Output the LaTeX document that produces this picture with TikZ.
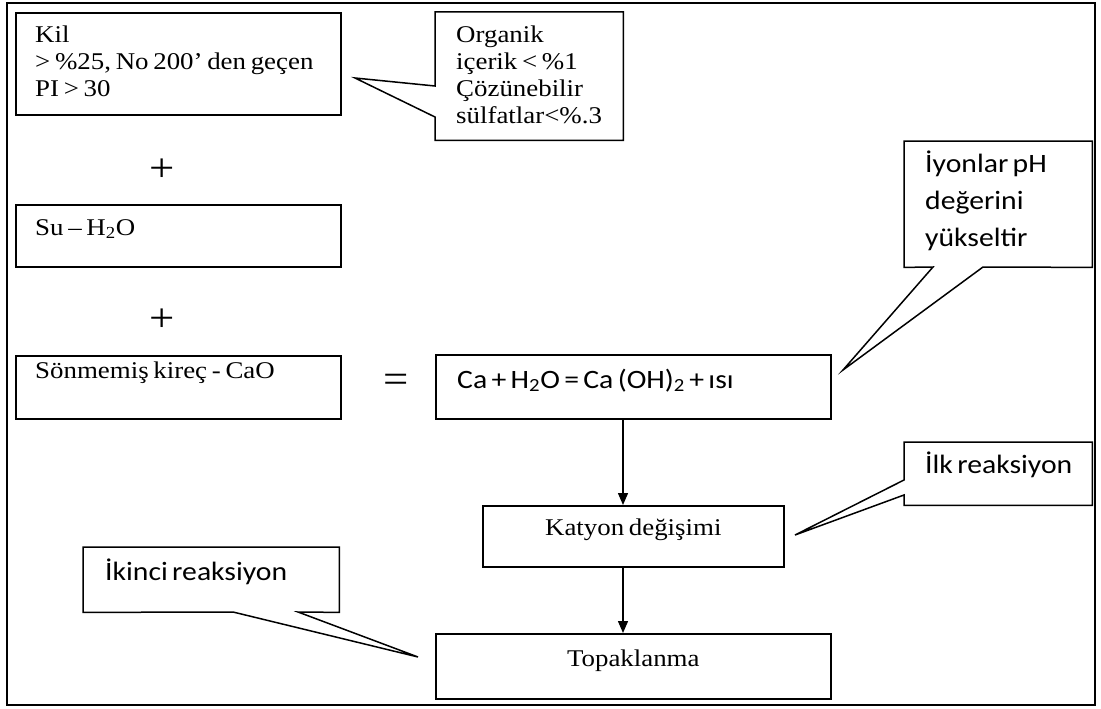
\documentclass[tikz,border=0pt]{standalone}
\usepackage{fontspec}
\usetikzlibrary{arrows.meta,calc}
\newfontfamily\tnr{Liberation Serif}[FakeStretch=1.12,WordSpace=0.7]
\newfontfamily\cbr{Carlito}[FakeStretch=1.12,WordSpace=0.65]
\tikzset{
  box/.style={draw, line width=1.6pt, anchor=north west, inner sep=0pt},
  bubble/.style={draw, line width=1.5pt, line join=miter},
  ttext/.style={font=\tnr\fontsize{24}{26.7}\selectfont, inner sep=0pt},
  ctext/.style={font=\cbr\fontsize{26.5}{37}\selectfont, inner sep=0pt},
  flow/.style={line width=1.4pt, -{Triangle[length=12pt,width=10pt]}},
  sign/.style={font=\tnr\fontsize{40}{40}\selectfont, inner sep=0pt}
}
\begin{document}
\begin{tikzpicture}[x=1pt,y=-1pt]
\useasboundingbox (0,0) rectangle (1101,709);
\fill[white] (0,0) rectangle (1101,709);
\draw[line width=2.4pt] (7,3) rectangle (1095,705);

% left column boxes
\node[box, minimum width=325pt, minimum height=102pt] (kil) at (15,12) {};
\node[ttext, anchor=base west] (kilt) at (35,43)
  {\vtop{\hbox{Kil}\hbox{> \%25, No 200’ den geçen}\hbox{PI > 30}}};
\node[sign] (plus1) at (162,170) {+};
\node[box, minimum width=325pt, minimum height=62pt] (su) at (15,204) {};
\node[ttext, anchor=base west] (sut) at (35,235) {Su – H\textsubscript{2}O};
\node[sign] (plus2) at (162,320) {+};
\node[box, minimum width=325pt, minimum height=63pt] (kirec) at (15,355) {};
\node[ttext, anchor=base west] (kirect) at (35,378) {Sönmemiş kireç - CaO};
\node[sign] (eq) at (396,383) {=};

% middle column boxes
\node[box, minimum width=395pt, minimum height=64pt] (ca) at (435,354) {};
\node[ctext, anchor=base west] (cat) at (457,388) {Ca + H\textsubscript{2}O = Ca (OH)\textsubscript{2} + ısı};
\node[box, minimum width=301pt, minimum height=61pt] (kat) at (482,505) {};
\node[ttext, anchor=base] (katt) at ($(kat.north)+(0,30)$) {Katyon değişimi};
\node[box, minimum width=395pt, minimum height=65pt] (top) at (435,633) {};
\node[ttext, anchor=base] (topt) at ($(top.north)+(0,33)$) {Topaklanma};

\coordinate (ax) at (623,0);
\draw[flow] (ca.south -| ax) -- (kat.north -| ax);
\draw[flow] (kat.south -| ax) -- (top.north -| ax);

% callout: Organik
\node[anchor=north west, minimum width=188pt, minimum height=128pt, inner sep=0pt] (org) at (435,12) {};
\coordinate (orgA) at (435,86);
\coordinate (orgB) at (435,117);
\coordinate (orgTip) at (355,78);
\draw[bubble] (org.north west) -- (org.north east) -- (org.south east) -- (org.south west)
  -- (orgB) -- (orgTip) -- (orgA) -- cycle;
\node[ttext, anchor=base west] (orgt) at (456,43)
  {\vtop{\hbox{Organik}\hbox{içerik < \%1}\hbox{Çözünebilir}\hbox{sülfatlar<\%.3}}};

% callout: Iyonlar
\node[anchor=north west, minimum width=188pt, minimum height=126pt, inner sep=0pt] (iyon) at (904,141) {};
\coordinate (iyA) at (933,267);
\coordinate (iyB) at (983,267);
\coordinate (iyTip) at (843,370);
\draw[bubble] (iyon.north west) -- (iyon.north east) -- (iyon.south east)
  -- (iyB) -- (iyTip) -- (iyA) -- (iyon.south west) -- cycle;
\node[ctext, anchor=base west] (iyont) at (925,172)
  {\vtop{\hbox{İyonlar pH}\hbox{değerini}\hbox{yükseltir}}};

% callout: Ilk reaksiyon
\node[anchor=north west, minimum width=188pt, minimum height=63pt, inner sep=0pt] (ilk) at (904,442) {};
\coordinate (ilA) at (904,480);
\coordinate (ilB) at (904,495);
\coordinate (ilTip) at (795,535);
\draw[bubble] (ilk.north west) -- (ilk.north east) -- (ilk.south east) -- (ilk.south west)
  -- (ilB) -- (ilTip) -- (ilA) -- cycle;
\node[ctext, anchor=base west] (ilkt) at (925,473) {İlk reaksiyon};

% callout: Ikinci reaksiyon
\node[anchor=north west, minimum width=256pt, minimum height=65pt, inner sep=0pt] (iki) at (83,547) {};
\coordinate (ikA) at (233,612);
\coordinate (ikB) at (298,612);
\coordinate (ikTip) at (418,657);
\draw[bubble] (iki.north west) -- (iki.north east) -- (iki.south east)
  -- (ikB) -- (ikTip) -- (ikA) -- (iki.south west) -- cycle;
\node[ctext, anchor=base west] (ikit) at (105,580) {İkinci reaksiyon};
\end{tikzpicture}
\end{document}
